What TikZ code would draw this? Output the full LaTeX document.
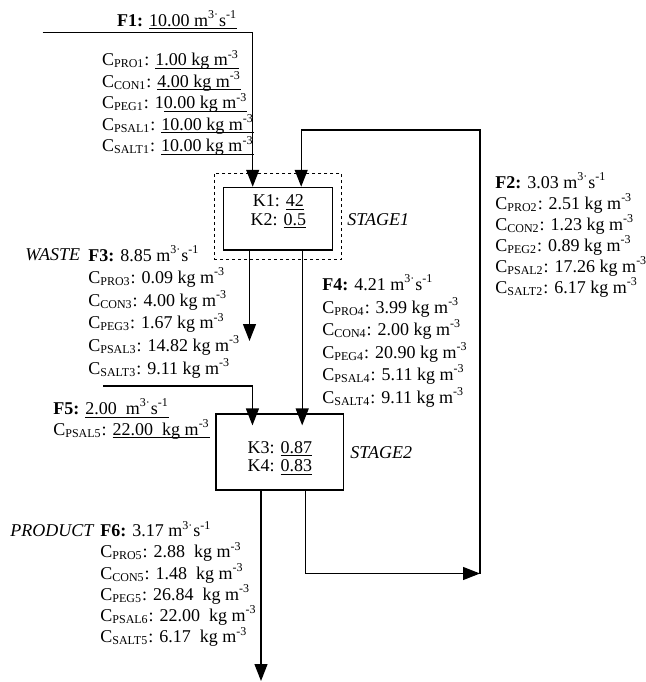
\documentclass[tikz,border=0pt]{standalone}
\usepackage{fontspec}
\setmainfont{Liberation Serif}
\usetikzlibrary{arrows.meta,calc}
\definecolor{sepInk}{HTML}{000000}
\newcommand{\valu}[1]{{\setbox0\hbox{#1}\rlap{\rule[-1.6pt]{\wd0}{0.5pt}}\box0}}
\newcommand{\cn}[1]{C\textsubscript{#1}}
\newcommand{\kgm}{kg m\textsuperscript{-3}}
\newcommand{\flw}{m\textsuperscript{3·}s\textsuperscript{-1}}
\tikzset{
  every picture/.style={font=\fontsize{9}{10.9}\selectfont, text=sepInk},
  sep box/.style={draw=sepInk, line width=0.6pt, inner sep=0pt},
  sep frame/.style={draw=sepInk, line width=0.5pt, dash pattern=on 1.5pt off 1.5pt, inner sep=0pt},
  sep flow/.style={-{Triangle[length=8.5pt,width=6.5pt]}, draw=sepInk, line width=0.65pt},
  sep text/.style={align=left, inner sep=0pt, anchor=base west},
  sep k/.style={align=center, inner sep=0pt, anchor=base, font=\fontsize{9}{9.3}\selectfont},
  sep tag/.style={inner sep=0pt, anchor=base west, font=\fontsize{9}{10.9}\selectfont\itshape}
}
\begin{document}
\begin{tikzpicture}[x=0.5pt,y=-0.5pt]
  \useasboundingbox (0,0) rectangle (645,682);
  % separation stages
  \node[sep frame, minimum width=63.85pt, minimum height=43pt] (frame1) at (277.85,216.3) {};
  \node[sep box, minimum width=54.7pt, minimum height=31.35pt] (stage1) at (278,218.7) {};
  \node[sep k] (stage1k) at (278.3,225) {K1: \valu{42}\\K2: \valu{0.5}};
  \node[sep tag] (stage1tag) at (347,225) {STAGE1};
  \node[sep box, minimum width=63.65pt, minimum height=38pt] (stage2) at (279.7,452) {};
  \node[sep k] (stage2k) at (279.8,471.7) {K3: \valu{0.87}\\K4: \valu{0.83}};
  \node[sep tag] (stage2tag) at (350,458.3) {STAGE2};
  % streams (anchored on the last line)
  \node[sep text] (f1head) at (116.7,26) {\textbf{F1:} \valu{10.00 \flw}};
  \node[sep text, font=\fontsize{9}{10.75}\selectfont] (f1) at (101.7,151.7) {\cn{PRO1}: \valu{1.00 \kgm}\\
    \cn{CON1}: \valu{4.00 \kgm}\\
    \cn{PEG1}: 1\valu{0.00 \kgm}\\
    \cn{PSAL1}: \valu{10.00 \kgm}\\
    \cn{SALT1}: \valu{10.00 \kgm}};
  \node[sep text, font=\fontsize{9}{10.5}\selectfont] (f2) at (495,293.3) {\textbf{F2:} 3.03 \flw\\
    \cn{PRO2}: 2.51 \kgm\\
    \cn{CON2}: 1.23 \kgm\\
    \cn{PEG2}: 0.89 \kgm\\
    \cn{PSAL2}: 17.26 \kgm\\
    \cn{SALT2}: 6.17 \kgm};
  \node[sep tag] (wastetag) at (25,260.7) {WASTE};
  \node[sep text, font=\fontsize{9}{11.3}\selectfont] (f3) at (88,374) {\textbf{F3:} 8.85 \flw\\
    \cn{PRO3}: 0.09 \kgm\\
    \cn{CON3}: 4.00 \kgm\\
    \cn{PEG3}: 1.67 \kgm\\
    \cn{PSAL3}: 14.82 \kgm\\
    \cn{SALT3}: 9.11 \kgm};
  \node[sep text, font=\fontsize{9}{11.25}\selectfont] (f4) at (322,403) {\textbf{F4:} 4.21 \flw\\
    \cn{PRO4}: 3.99 \kgm\\
    \cn{CON4}: 2.00 \kgm\\
    \cn{PEG4}: 20.90 \kgm\\
    \cn{PSAL4}: 5.11 \kgm\\
    \cn{SALT4}: 9.11 \kgm};
  \node[sep text, font=\fontsize{9}{10.35}\selectfont] (f5) at (53,435) {\textbf{F5:} \valu{2.00\ \ \flw}\\
    \cn{PSAL5}: \valu{22.00\ \ \kgm}};
  \node[sep tag] (producttag) at (10,536.7) {PRODUCT};
  \node[sep text, font=\fontsize{9}{10.6}\selectfont] (f6) at (100,642.7) {\textbf{F6:} 3.17 \flw\\
    \cn{PRO5}: 2.88\ \ \kgm\\
    \cn{CON5}: 1.48\ \ \kgm\\
    \cn{PEG5}: 26.84\ \ \kgm\\
    \cn{PSAL6}: 22.00\ \ \kgm\\
    \cn{SALT5}: 6.17\ \ \kgm};
  % connectors
  \coordinate (f1in) at (42.7,32.3);
  \coordinate (f5in) at (103,386);
  \coordinate (waste) at (249.5,341);
  \coordinate (product) at (261,681);
  \coordinate (f2turn) at (480,573.5);
  \coordinate (f2top) at (480,130);
  \draw[sep flow] (f1in) -| ($(stage1.north west)+(30,0)$);
  \draw[sep flow] (stage1.south -| waste) -- (waste);
  \draw[sep flow,shorten >=-6pt] ($(stage1.south west)+(79.5,0)$) coordinate (f4top) -- (f4top |- stage2.north);
  \draw[sep flow,shorten >=-6pt] (f5in) -| ($(stage2.north west)+(37,0)$);
  \draw[sep flow] (stage2.south -| product) -- (product);
  \draw[sep flow] ($(stage2.south west)+(90,0)$) |- (f2turn);
  \draw[sep flow] (f2turn) -- (f2top) -| ($(stage1.north west)+(78.5,0)$);
\end{tikzpicture}
\end{document}
